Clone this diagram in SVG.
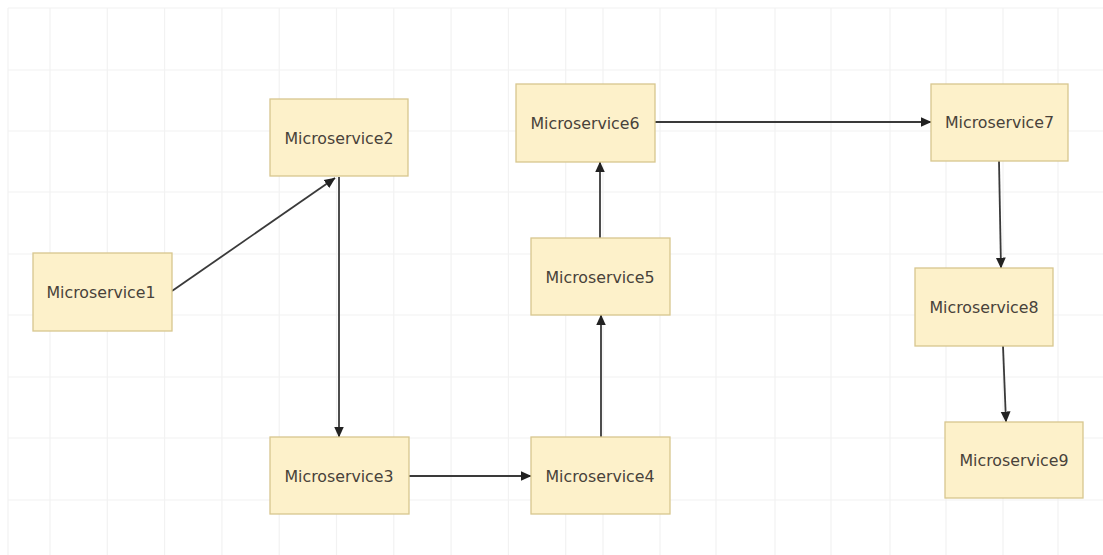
<svg xmlns="http://www.w3.org/2000/svg" width="1103" height="555" viewBox="0 0 1103 555">
<style>
.grid line{stroke:#f2f2f2;stroke-width:1.2}
.node rect{fill:#fdf1ca;stroke:#d8c68e;stroke-width:1.3}
.node text{font-family:"DejaVu Sans",sans-serif;font-size:15.8px;fill:#48423a;text-anchor:middle}
.edges line{stroke:#3a3a3a;stroke-width:1.8;marker-end:url(#arr)}
</style>
<defs>
<marker id="arr" viewBox="0 0 10 10" refX="9.5" refY="5" markerWidth="11" markerHeight="11" markerUnits="userSpaceOnUse" orient="auto">
<path d="M0,0.5 L10,5 L0,9.5 z" fill="#222"/>
</marker>
</defs>
<rect x="0" y="0" width="1103" height="555" fill="#ffffff"/>
<g class="grid">
<line x1="8" y1="8" x2="8" y2="555"/>
<line x1="50" y1="8" x2="50" y2="555"/>
<line x1="107.3" y1="8" x2="107.3" y2="555"/>
<line x1="164.6" y1="8" x2="164.6" y2="555"/>
<line x1="221.9" y1="8" x2="221.9" y2="555"/>
<line x1="279.2" y1="8" x2="279.2" y2="555"/>
<line x1="336.5" y1="8" x2="336.5" y2="555"/>
<line x1="393.8" y1="8" x2="393.8" y2="555"/>
<line x1="451.1" y1="8" x2="451.1" y2="555"/>
<line x1="508.4" y1="8" x2="508.4" y2="555"/>
<line x1="565.7" y1="8" x2="565.7" y2="555"/>
<line x1="603" y1="8" x2="603" y2="555"/>
<line x1="660" y1="8" x2="660" y2="555"/>
<line x1="716" y1="8" x2="716" y2="555"/>
<line x1="775" y1="8" x2="775" y2="555"/>
<line x1="831" y1="8" x2="831" y2="555"/>
<line x1="890" y1="8" x2="890" y2="555"/>
<line x1="946" y1="8" x2="946" y2="555"/>
<line x1="1003" y1="8" x2="1003" y2="555"/>
<line x1="1058" y1="8" x2="1058" y2="555"/>
<line x1="8" y1="8" x2="1103" y2="8"/>
<line x1="8" y1="70" x2="1103" y2="70"/>
<line x1="8" y1="131" x2="1103" y2="131"/>
<line x1="8" y1="192" x2="1103" y2="192"/>
<line x1="8" y1="254" x2="1103" y2="254"/>
<line x1="8" y1="315" x2="1103" y2="315"/>
<line x1="8" y1="377" x2="1103" y2="377"/>
<line x1="8" y1="438" x2="1103" y2="438"/>
<line x1="8" y1="500" x2="1103" y2="500"/>
</g>
<g class="edges">
<line x1="172" y1="291" x2="335" y2="178"/>
<line x1="339" y1="177" x2="339" y2="437"/>
<line x1="409" y1="476" x2="531" y2="476"/>
<line x1="601" y1="437" x2="601" y2="315"/>
<line x1="600" y1="238" x2="600" y2="162"/>
<line x1="655" y1="122" x2="931" y2="122"/>
<line x1="999" y1="161" x2="1001" y2="268"/>
<line x1="1003" y1="346" x2="1006" y2="422"/>
</g>
<g id="ms1" class="node"><rect x="33" y="253" width="139" height="78"/><text x="101" y="298">Microservice1</text></g>
<g id="ms2" class="node"><rect x="270" y="99" width="138" height="77"/><text x="339" y="143.5">Microservice2</text></g>
<g id="ms3" class="node"><rect x="270" y="437" width="139" height="77"/><text x="339" y="481.5">Microservice3</text></g>
<g id="ms4" class="node"><rect x="531" y="437" width="139" height="77"/><text x="600" y="481.5">Microservice4</text></g>
<g id="ms5" class="node"><rect x="531" y="238" width="139" height="77"/><text x="600" y="282.5">Microservice5</text></g>
<g id="ms6" class="node"><rect x="516" y="84" width="139" height="78"/><text x="585" y="128.5">Microservice6</text></g>
<g id="ms7" class="node"><rect x="931" y="84" width="137" height="77"/><text x="999.5" y="128">Microservice7</text></g>
<g id="ms8" class="node"><rect x="915" y="268" width="138" height="78"/><text x="984" y="312.5">Microservice8</text></g>
<g id="ms9" class="node"><rect x="945" y="422" width="138" height="76"/><text x="1014" y="466">Microservice9</text></g>
</svg>
